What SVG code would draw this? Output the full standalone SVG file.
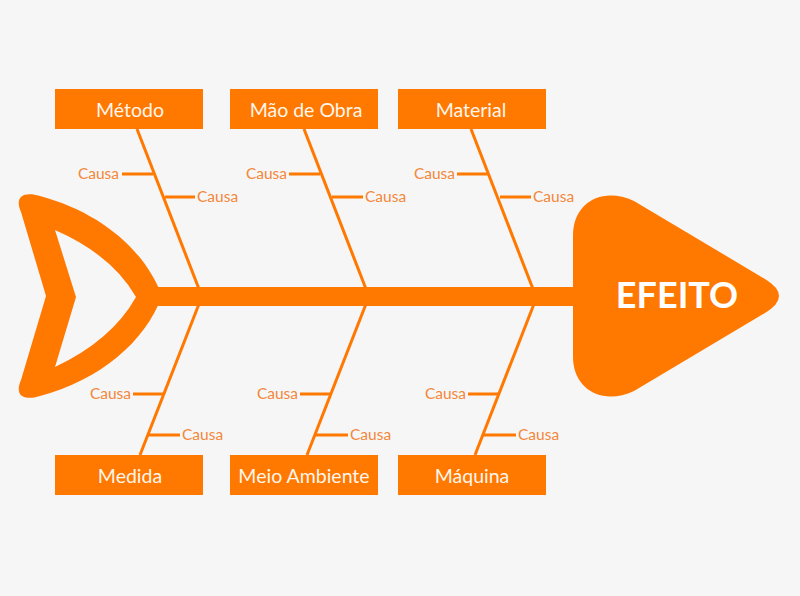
<svg xmlns="http://www.w3.org/2000/svg" width="800" height="596" viewBox="0 0 800 596">
<style>
.o{fill:#ff7800}
.box{fill:#ff7800}
.lbl{font-family:Lato,"Open Sans",sans-serif;font-size:19.5px;fill:#fff6ec;text-anchor:middle}
.c{font-family:Lato,"Open Sans",sans-serif;font-size:15.5px;fill:#f3873a}
.ce{text-anchor:end}
.bone{stroke:#ff7800;stroke-width:3;fill:none}
.tick{stroke:#ff7800;stroke-width:3}
</style>
<rect width="800" height="596" fill="#f6f6f6"/>
<g id="tail">
<path class="o" fill-rule="evenodd" d="M21,212 C14,196 24,191 40,196 C100,212 145,250 162,296 C145,342 100,380 40,396 C24,401 14,396 21,380 L46,296 Z M55,230 Q112,255 136,297 Q112,340 55,367 L76,297 Z"/>
</g>
<g id="spine"><rect class="o" x="158" y="287" width="420" height="19"/></g>
<g id="effect">
<path class="o" d="M573,235 C573,203 602,186 634,201 L765,279 Q793,296 765,313 L634,391 C602,406 573,389 573,357 Z"/>
<text x="677" y="308" font-family="Lato,'Open Sans',sans-serif" font-size="36" font-weight="bold" fill="#ffffff" text-anchor="middle">EFEITO</text>
</g>
<g id="connectors">
<line class="bone" x1="137" y1="129" x2="199" y2="289"/>
<line class="bone" x1="304" y1="129" x2="366" y2="289"/>
<line class="bone" x1="471" y1="129" x2="533" y2="289"/>
<line class="bone" x1="199" y1="304" x2="140" y2="455"/>
<line class="bone" x1="366" y1="304" x2="307" y2="455"/>
<line class="bone" x1="534" y1="304" x2="475" y2="455"/>
<line class="tick" x1="122" y1="174" x2="153" y2="174"/>
<line class="tick" x1="165" y1="197" x2="195" y2="197"/>
<line class="tick" x1="289" y1="174" x2="320" y2="174"/>
<line class="tick" x1="332" y1="197" x2="363" y2="197"/>
<line class="tick" x1="457" y1="174" x2="488" y2="174"/>
<line class="tick" x1="500" y1="197" x2="531" y2="197"/>
<line class="tick" x1="133" y1="394" x2="164" y2="394"/>
<line class="tick" x1="148" y1="435" x2="180" y2="435"/>
<line class="tick" x1="300" y1="394" x2="331" y2="394"/>
<line class="tick" x1="315" y1="435" x2="348" y2="435"/>
<line class="tick" x1="468" y1="394" x2="499" y2="394"/>
<line class="tick" x1="483" y1="435" x2="516" y2="435"/>
</g>
<g id="metodo"><rect class="box" x="55" y="89" width="148" height="40"/><text class="lbl" x="130" y="117">Método</text></g>
<g id="mao-de-obra"><rect class="box" x="230" y="89" width="148" height="40"/><text class="lbl" x="306" y="117">Mão de Obra</text></g>
<g id="material"><rect class="box" x="398" y="89" width="148" height="40"/><text class="lbl" x="471" y="117">Material</text></g>
<g id="medida"><rect class="box" x="55" y="455" width="148" height="40"/><text class="lbl" x="130" y="483">Medida</text></g>
<g id="meio-ambiente"><rect class="box" x="230" y="455" width="148" height="40"/><text class="lbl" x="304" y="483">Meio Ambiente</text></g>
<g id="maquina"><rect class="box" x="398" y="455" width="148" height="40"/><text class="lbl" x="472" y="483">Máquina</text></g>
<g id="causes">
<text class="c ce" x="119" y="179">Causa</text>
<text class="c" x="197" y="202">Causa</text>
<text class="c ce" x="287" y="179">Causa</text>
<text class="c" x="365" y="202">Causa</text>
<text class="c ce" x="455" y="179">Causa</text>
<text class="c" x="533" y="202">Causa</text>
<text class="c ce" x="131" y="399">Causa</text>
<text class="c" x="182" y="440">Causa</text>
<text class="c ce" x="298" y="399">Causa</text>
<text class="c" x="350" y="440">Causa</text>
<text class="c ce" x="466" y="399">Causa</text>
<text class="c" x="518" y="440">Causa</text>
</g>
</svg>
